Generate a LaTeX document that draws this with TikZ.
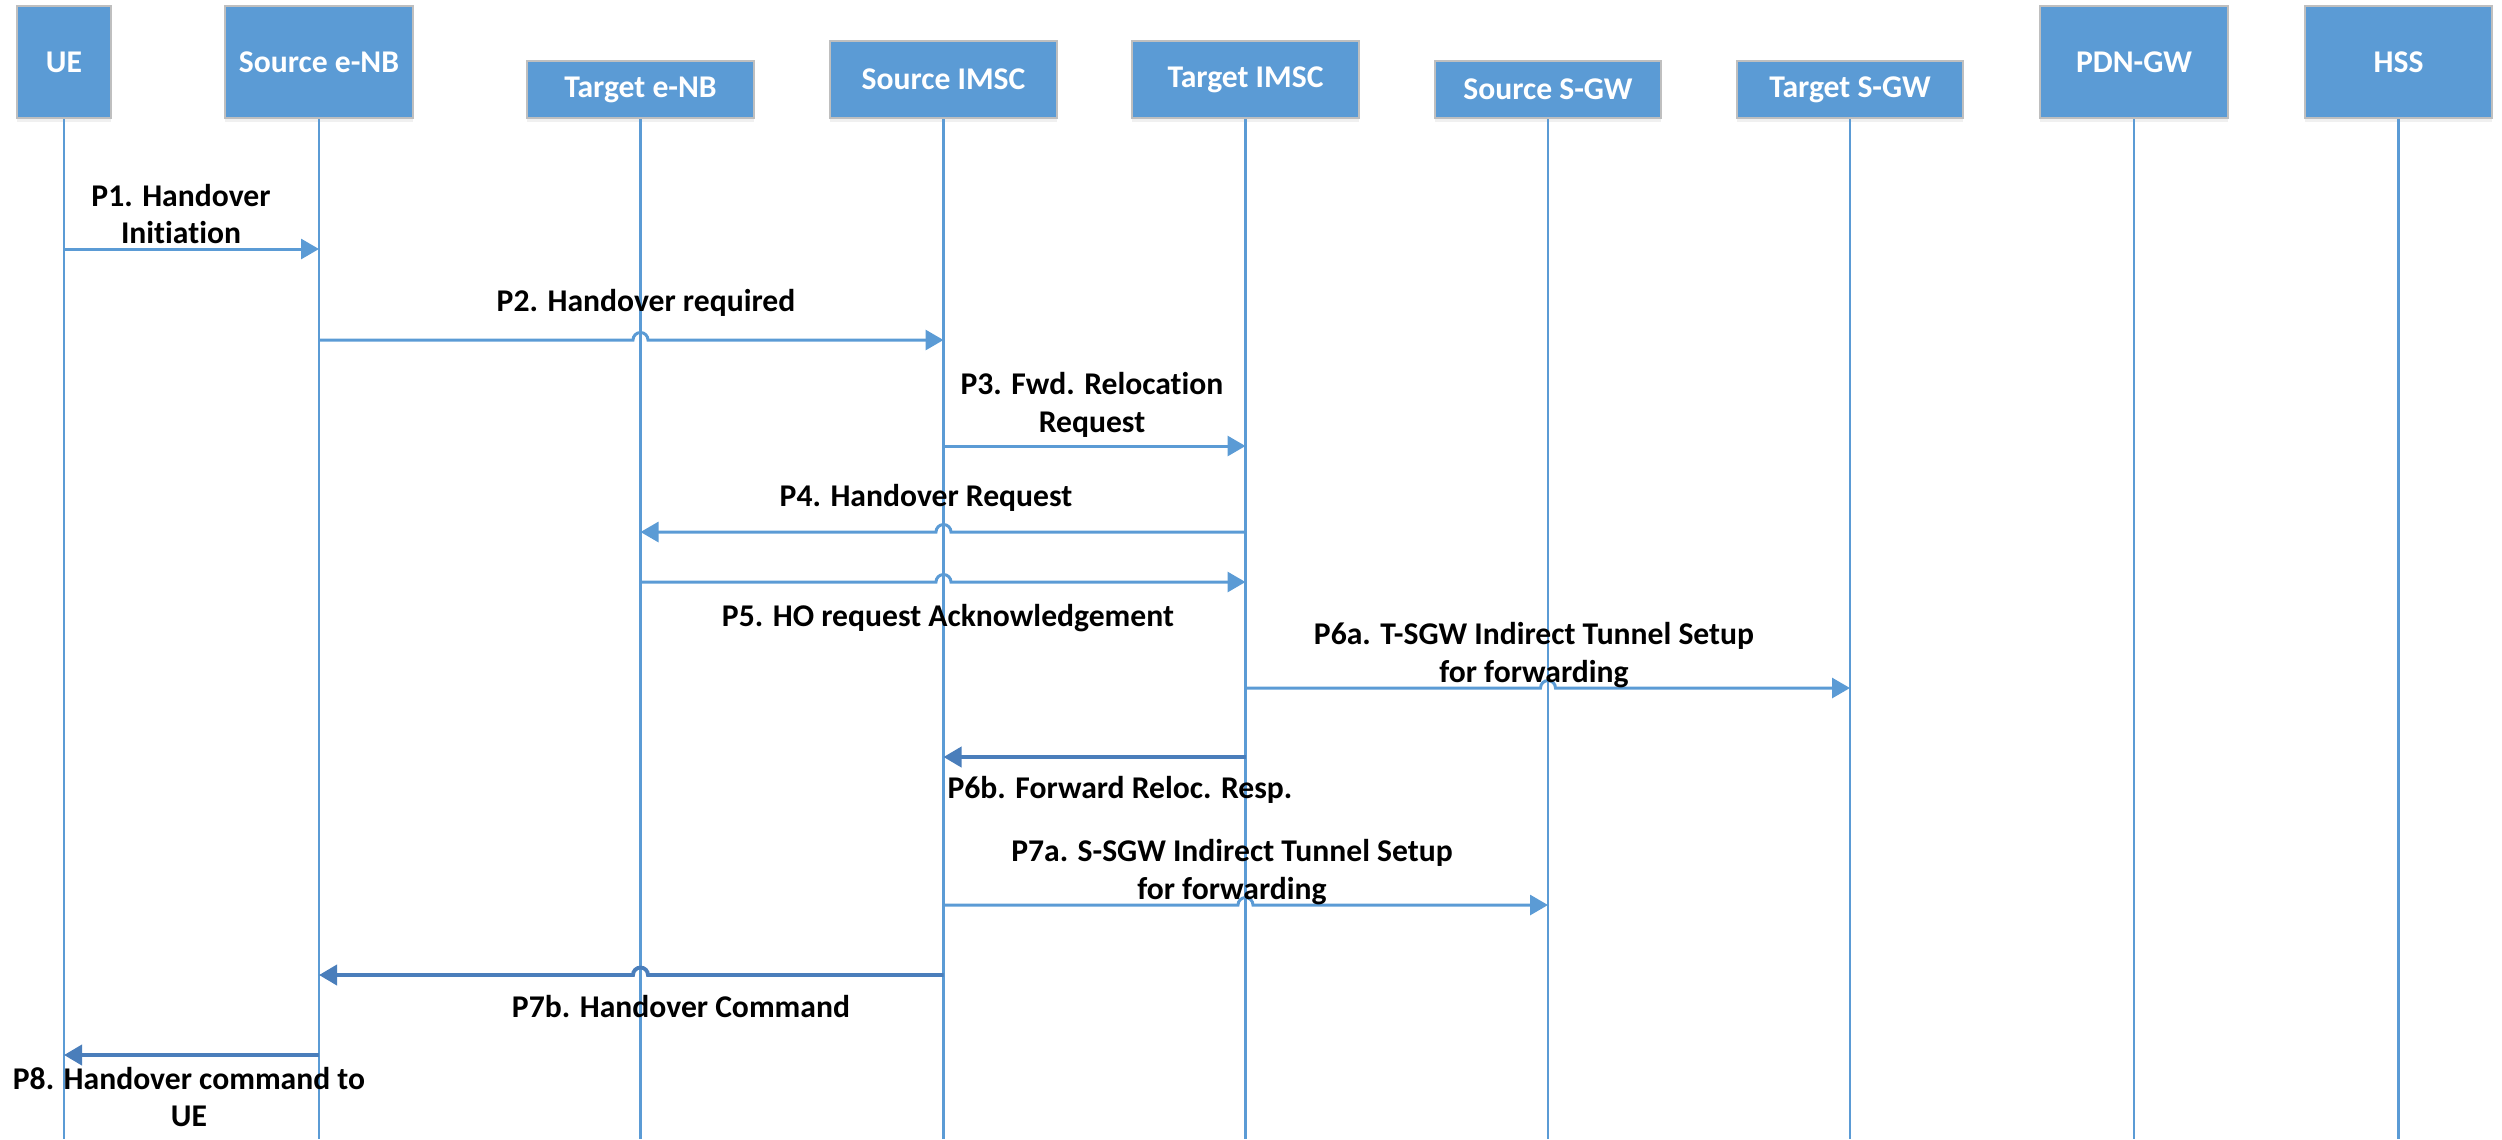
\documentclass[tikz,border=0pt]{standalone}
\usepackage{fontspec}
\setmainfont[Ligatures=NoCommon]{Carlito}
\usetikzlibrary{arrows.meta,calc,shadows}

\definecolor{boxblue}{HTML}{5B9BD5}
\definecolor{boxrim}{HTML}{BFBFBF}
\definecolor{msgdark}{HTML}{4A7EBB}

\tikzset{
	entity/.style={draw=boxrim, line width=0.6pt, fill=boxblue, text=white, anchor=south,
		font=\fontsize{9}{10.8}\selectfont\bfseries, inner sep=0pt,
		drop shadow={shadow xshift=0pt, shadow yshift=-0.04cm, opacity=0.12}},
	lifeline/.style={draw=boxblue, line width=0.7pt},
	msg/.style={draw=boxblue, line width=0.85pt, -{Triangle[length=0.18cm,width=0.2cm]}},
	msgdark/.style={msg, draw=msgdark, line width=1.1pt},
	msglabel/.style={font=\fontsize{9}{10.8}\selectfont\bfseries, align=center, inner sep=0pt}
}
\newcommand{\hop}{0.075}

\begin{document}
\begin{tikzpicture}
		\useasboundingbox (0,0) rectangle (25.02,-11.39);
		
		%entities
		\node[entity, minimum width=0.94cm, minimum height=1.12cm] (ue) at (0.64,-1.19) {UE};
		\node[entity, minimum width=1.88cm, minimum height=1.12cm] (senb) at (3.19,-1.19) {Source e-NB};
		\node[entity, minimum width=2.27cm, minimum height=0.57cm] (tenb) at (6.405,-1.19) {Target e-NB};
		\node[entity, minimum width=2.27cm, minimum height=0.77cm] (simsc) at (9.435,-1.19) {Source IMSC};
		\node[entity, minimum width=2.27cm, minimum height=0.77cm] (timsc) at (12.455,-1.19) {Target IMSC};
		\node[entity, minimum width=2.26cm, minimum height=0.57cm] (ssgw) at (15.48,-1.19) {Source S-GW};
		\node[entity, minimum width=2.26cm, minimum height=0.57cm] (tsgw) at (18.50,-1.19) {Target S-GW};
		\node[entity, minimum width=1.88cm, minimum height=1.12cm] (pdngw) at (21.34,-1.19) {PDN-GW};
		\node[entity, minimum width=1.87cm, minimum height=1.12cm] (hss) at (23.985,-1.19) {HSS};
		
		%lifelines
		\coordinate (bottom) at (0,-11.39);
		\foreach \n in {ue,senb,tenb,simsc,timsc,ssgw,tsgw,pdngw,hss}
		\draw[lifeline] (\n.south) -- (\n.south |- bottom);
		
		%message rows
		\foreach \r/\y in {r1/2.49,r2/3.40,r3/4.46,r4/5.32,r5/5.82,r6a/6.88,r6b/7.57,r7a/9.05,r7b/9.75,r8/10.55}
		\coordinate (\r) at (0,-\y);
		
		%messages
		\draw[msg] (ue |- r1) -- (senb |- r1);
		\draw[msg] (senb |- r2) -- ($(tenb |- r2)+(-\hop,0)$) arc[start angle=180, end angle=0, radius=\hop] -- (simsc |- r2);
		\draw[msg] (simsc |- r3) -- (timsc |- r3);
		\draw[msg] (timsc |- r4) -- ($(simsc |- r4)+(\hop,0)$) arc[start angle=0, end angle=180, radius=\hop] -- (tenb |- r4);
		\draw[msg] (tenb |- r5) -- ($(simsc |- r5)+(-\hop,0)$) arc[start angle=180, end angle=0, radius=\hop] -- (timsc |- r5);
		\draw[msg] (timsc |- r6a) -- ($(ssgw |- r6a)+(-\hop,0)$) arc[start angle=180, end angle=0, radius=\hop] -- (tsgw |- r6a);
		\draw[msgdark] (timsc |- r6b) -- (simsc |- r6b);
		\draw[msg] (simsc |- r7a) -- ($(timsc |- r7a)+(-\hop,0)$) arc[start angle=180, end angle=0, radius=\hop] -- (ssgw |- r7a);
		\draw[msgdark] (simsc |- r7b) -- ($(tenb |- r7b)+(\hop,0)$) arc[start angle=0, end angle=180, radius=\hop] -- (senb |- r7b);
		\draw[msgdark] (senb |- r8) -- (ue |- r8);
		
		%labels
		\node[msglabel] (l1) at (1.81,-2.14) {P1. Handover\\Initiation};
		\node[msglabel] (l2) at (6.46,-3.03) {P2. Handover required};
		\node[msglabel] (l3) at (10.92,-4.05) {P3. Fwd. Relocation\\Request};
		\node[msglabel] (l4) at (9.26,-4.98) {P4. Handover Request};
		\node[msglabel] (l5) at (9.48,-6.18) {P5. HO request Acknowledgement};
		\node[msglabel] (l6a) at (15.34,-6.55) {P6a. T-SGW Indirect Tunnel Setup\\for forwarding};
		\node[msglabel] (l6b) at (11.20,-7.90) {P6b. Forward Reloc. Resp.};
		\node[msglabel] (l7a) at (12.32,-8.72) {P7a. S-SGW Indirect Tunnel Setup\\for forwarding};
		\node[msglabel] (l7b) at (6.81,-10.06) {P7b. Handover Command};
		\node[msglabel] (l8) at (1.89,-10.97) {P8. Handover command to\\UE};
		
	\end{tikzpicture}
\end{document}
